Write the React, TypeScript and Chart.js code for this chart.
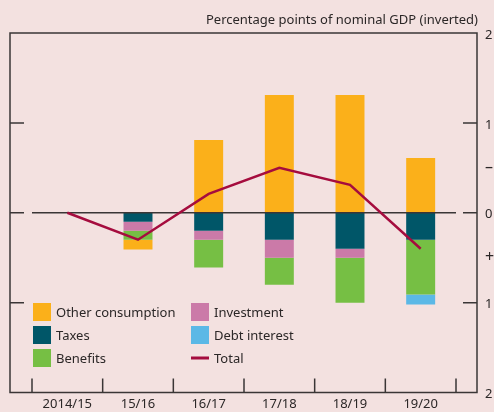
import React, { useEffect, useRef } from "react";
import { Chart, registerables } from "chart.js";

Chart.register(...registerables);

// ---- Data ----
const categories = ["2014/15", "15/16", "16/17", "17/18", "18/19", "19/20"];
const otherConsumption = [0, -0.11, 0.81, 1.31, 1.31, 0.61];
const taxes = [0, -0.1, -0.2, -0.3, -0.4, -0.3];
const investment = [0, -0.1, -0.1, -0.2, -0.1, 0];
const benefits = [0, -0.1, -0.31, -0.3, -0.5, -0.61];
const debtInterest = [0, 0, 0, 0, 0, -0.11];
const total = [0, -0.3, 0.21, 0.5, 0.31, -0.4];

const yTickValues = [2, 1, 0.5, 0, -0.5, -1, -2];
const yTickLabels = ["2", "1", "–", "0", "+", "1", "2"];
const frameTickValues = [1, 0, -1];
const axisTitle = "Percentage points of nominal GDP (inverted)";

// ---- Styles ----
const BG = "#f3e1e0";
const AXIS = "#3a3636";
const FONT = '"Noto Sans", sans-serif';
const COLORS = {
  other: "#fbb01a",
  taxes: "#005668",
  investment: "#cb7aa8",
  benefits: "#76bf44",
  debt: "#5bb8e6",
  total: "#a50c3e",
};

const legendItems = [
  { label: "Other consumption", color: COLORS.other, kind: "box", col: 0, row: 0 },
  { label: "Taxes", color: COLORS.taxes, kind: "box", col: 0, row: 1 },
  { label: "Benefits", color: COLORS.benefits, kind: "box", col: 0, row: 2 },
  { label: "Investment", color: COLORS.investment, kind: "box", col: 1, row: 0 },
  { label: "Debt interest", color: COLORS.debt, kind: "box", col: 1, row: 1 },
  { label: "Total", color: COLORS.total, kind: "line", col: 1, row: 2 },
];

const decorPlugin = {
  id: "decor",
  beforeDraw(chart: any) {
    const { ctx, width, height } = chart;
    ctx.save();
    ctx.fillStyle = BG;
    ctx.fillRect(0, 0, width, height);
    ctx.restore();
  },
  beforeDatasetDraw(chart: any, args: any) {
    if (args.meta.type !== "line") return;
    const { ctx, chartArea } = chart;
    const y = chart.scales.y.getPixelForValue(0);
    ctx.save();
    ctx.strokeStyle = AXIS;
    ctx.lineWidth = 1.5;
    ctx.beginPath();
    ctx.moveTo(chartArea.left, y);
    ctx.lineTo(chartArea.right, y);
    ctx.stroke();
    ctx.restore();
  },
  afterDraw(chart: any) {
    const { ctx, chartArea } = chart;
    const ys = chart.scales.y;
    const xs = chart.scales.x;
    const fL = chartArea.left - 22;
    const fR = chartArea.right + 21;
    const fT = chartArea.top;
    const fB = chartArea.bottom;
    ctx.save();
    ctx.strokeStyle = AXIS;
    ctx.lineWidth = 1.5;
    ctx.strokeRect(fL, fT, fR - fL, fB - fT);
    // side ticks
    ctx.beginPath();
    frameTickValues.forEach((v) => {
      const y = ys.getPixelForValue(v);
      ctx.moveTo(fL, y);
      ctx.lineTo(fL + 14, y);
      ctx.moveTo(fR - 14, y);
      ctx.lineTo(fR, y);
    });
    // bottom ticks at category boundaries
    for (let i = 0; i <= categories.length; i++) {
      const x = xs.getPixelForValue(i - 0.5);
      ctx.moveTo(x, fB);
      ctx.lineTo(x, fB - 14);
    }
    ctx.stroke();

    ctx.fillStyle = "#2b2727";
    // right labels
    ctx.textAlign = "left";
    ctx.textBaseline = "middle";
    yTickValues.forEach((v, i) => {
      const lab = yTickLabels[i];
      const isSign = lab === "+" || lab === "–";
      ctx.font = isSign ? `16px ${FONT}` : `13px ${FONT}`;
      ctx.fillText(lab, fR + 8, ys.getPixelForValue(v) + (isSign ? 0 : 2));
    });
    ctx.font = `13px ${FONT}`;
    // x labels
    ctx.textAlign = "center";
    categories.forEach((c, i) => {
      ctx.fillText(c, xs.getPixelForValue(i), fB + 12);
    });
    // title
    ctx.textAlign = "right";
    ctx.fillText(axisTitle, fR + 1, 20);

    // legend
    const lx0 = 33;
    const colW = 158;
    const ly0 = 312;
    const rowH = 23;
    ctx.textAlign = "left";
    legendItems.forEach((it) => {
      const x = lx0 + it.col * colW;
      const y = ly0 + it.row * rowH;
      ctx.fillStyle = it.color;
      if (it.kind === "box") {
        ctx.fillRect(x, y - 9, 18, 18);
      } else {
        ctx.fillRect(x, y - 1.5, 18, 3);
      }
      ctx.fillStyle = "#2b2727";
      ctx.fillText(it.label, x + 23, y + 1);
    });
    ctx.restore();
  },
};

export default function App() {
  const ref = useRef<HTMLCanvasElement | null>(null);
  useEffect(() => {
    document.body.style.margin = "0";
    document.body.style.background = BG;
    const canvas = ref.current!;
    const barCommon = {
      type: "bar" as const,
      stack: "bars",
      barPercentage: 0.41,
      categoryPercentage: 1,
      borderWidth: 0,
    };
    const chart = new Chart(canvas, {
      type: "bar",
      data: {
        labels: categories,
        datasets: [
          {
            type: "line" as const,
            label: "Total",
            data: total,
            stack: "total",
            borderColor: COLORS.total,
            backgroundColor: COLORS.total,
            borderWidth: 2.5,
            pointRadius: 0,
            tension: 0,
            order: -1,
          } as any,
          { ...barCommon, label: "Taxes", data: taxes, backgroundColor: COLORS.taxes },
          { ...barCommon, label: "Investment", data: investment, backgroundColor: COLORS.investment },
          { ...barCommon, label: "Benefits", data: benefits, backgroundColor: COLORS.benefits },
          { ...barCommon, label: "Debt interest", data: debtInterest, backgroundColor: COLORS.debt },
          { ...barCommon, label: "Other consumption", data: otherConsumption, backgroundColor: COLORS.other },
        ],
      },
      options: {
        responsive: false,
        animation: false,
        devicePixelRatio: 1,
        layout: { padding: { left: 32, right: 38, top: 33, bottom: 19.5 } },
        plugins: { legend: { display: false }, tooltip: { enabled: false } },
        scales: {
          x: { display: false, stacked: true, offset: true },
          y: { display: false, stacked: true, min: -2, max: 2 },
        },
      },
      plugins: [decorPlugin],
    });
    return () => chart.destroy();
  }, []);
  return (
    <canvas ref={ref} width={494} height={412} style={{ display: "block", width: 494, height: 412 }} />
  );
}
